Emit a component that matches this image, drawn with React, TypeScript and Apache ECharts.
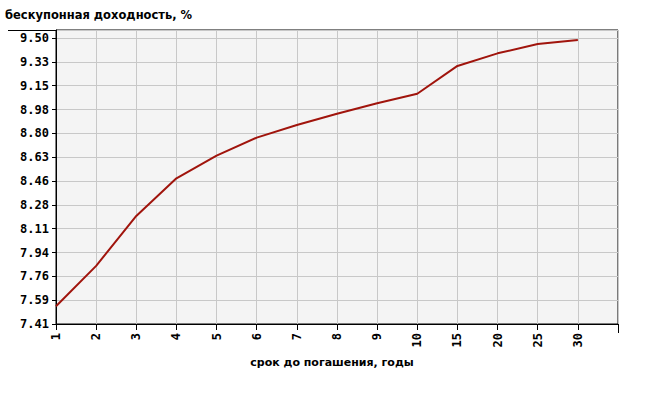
import React, { useEffect, useRef } from "react";
import * as echarts from "echarts";

const titleText = "бескупонная доходность, %";
const xAxisTitle = "срок до погашения, годы";
const maturities = ["1", "2", "3", "4", "5", "6", "7", "8", "9", "10", "15", "20", "25", "30", ""];
const yields = [7.54, 7.835, 8.2, 8.475, 8.64, 8.772, 8.864, 8.947, 9.023, 9.093, 9.296, 9.388, 9.456, 9.486];
const yTickLabels = ["7.41", "7.59", "7.76", "7.94", "8.11", "8.28", "8.46", "8.63", "8.80", "8.98", "9.15", "9.33", "9.50"];
const Y_BASE = 7.41;
const Y_STEP = (9.5 - 7.41) / 12;
const Y_TOP = 12.336; // top of plot, in tick steps

export default function App() {
  const ref = useRef<HTMLDivElement>(null);
  useEffect(() => {
    if (!ref.current) return;
    const chart = echarts.init(ref.current, null, { renderer: "svg" });
    const labelFont = {
      fontFamily: "DejaVu Sans Mono",
      fontWeight: "bold" as const,
      fontSize: 12,
      color: "#000",
    };
    chart.setOption({
      animation: false,
      backgroundColor: "#fff",
      title: {
        text: titleText,
        left: 0,
        top: 4,
        textStyle: { fontFamily: "DejaVu Sans", fontWeight: "bold", fontSize: 11.5, color: "#000" },
      },
      grid: {
        left: 56,
        top: 30,
        width: 562,
        height: 294,
        show: true,
        backgroundColor: "#f4f4f4",
        borderColor: "#000",
        borderWidth: 1,
      },
      xAxis: {
        type: "category",
        data: maturities,
        boundaryGap: false,
        axisLine: { lineStyle: { color: "#000", width: 1 } },
        axisTick: { show: true, length: 6, lineStyle: { color: "#000" }, interval: 0 },
        axisLabel: { ...labelFont, rotate: 90, margin: 9, interval: 0 },
        splitLine: { show: true, interval: 0, lineStyle: { color: "#c8c8c8", width: 1 } },
        name: xAxisTitle,
        nameLocation: "middle",
        nameGap: 33,
        nameTextStyle: {
          fontFamily: "DejaVu Sans",
          fontWeight: "bold",
          fontSize: 11,
          color: "#000",
          padding: [0, 10, 0, 0],
        },
      },
      yAxis: {
        type: "value",
        min: 0,
        max: Y_TOP,
        interval: 1,
        axisLine: { show: true, lineStyle: { color: "#000", width: 1 } },
        axisTick: { show: true, length: 4, lineStyle: { color: "#000" } },
        axisLabel: {
          ...labelFont,
          margin: 7,
          formatter: (v: number) => {
            const i = Math.round(v);
            if (Math.abs(v - i) > 1e-6) return "";
            return yTickLabels[i] ?? "";
          },
        },
        splitLine: { show: true, lineStyle: { color: "#c8c8c8", width: 1 } },
      },
      series: [
        {
          type: "line",
          data: yields.map((v) => (v - Y_BASE) / Y_STEP),
          symbol: "none",
          lineStyle: { color: "#a0140c", width: 2 },
        },
      ],
      graphic: [
        { type: "line", shape: { x1: 8, y1: 30.5, x2: 56, y2: 30.5 }, style: { stroke: "#000", lineWidth: 1 } },
        { type: "line", shape: { x1: 618.5, y1: 324, x2: 618.5, y2: 333 }, style: { stroke: "#000", lineWidth: 1 } },
      ],
    });
    return () => chart.dispose();
  }, []);
  return (
    <div
      ref={ref}
      style={{ position: "absolute", left: 0, top: 0, width: 650, height: 408 }}
    />
  );
}
